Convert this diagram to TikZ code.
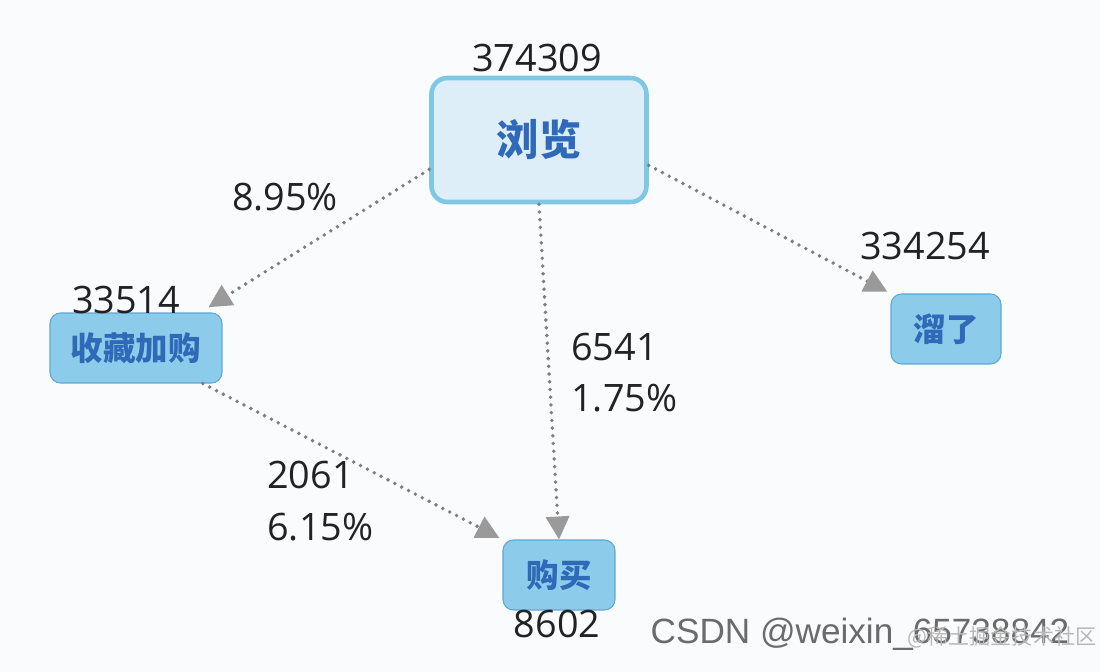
\documentclass[tikz,border=0pt]{standalone}
\usepackage{fontspec}
\setmainfont{Open Sans}
\newfontfamily\cjk{Noto Sans CJK SC}
\newfontfamily\wmfont{Liberation Sans}
\usetikzlibrary{arrows.meta,positioning}
\definecolor{bgc}{HTML}{FAFBFD}
\definecolor{topfill}{HTML}{DDEEF8}
\definecolor{topline}{HTML}{7EC8E3}
\definecolor{boxfill}{HTML}{8DCBEA}
\definecolor{boxline}{HTML}{5AA9D6}
\definecolor{txtblue}{HTML}{2F6AB8}
\definecolor{numc}{HTML}{222222}
\definecolor{flowc}{HTML}{7E7E7E}
\definecolor{tipc}{HTML}{9A9A9A}
\begin{document}
\begin{tikzpicture}[
    x=0.02cm, y=-0.02cm,
    top/.style={draw=topline, fill=topfill, line width=2.6pt, rounded corners=9pt,
                minimum width=4.3cm, minimum height=2.48cm,
                font=\cjk\bfseries\fontsize{24}{28}\selectfont, text=txtblue},
    stage/.style={draw=boxline, fill=boxfill, line width=0.6pt, rounded corners=6pt,
                  minimum height=1.4cm, font=\cjk\bfseries\fontsize{18.5}{22}\selectfont,
                  text=txtblue},
    num/.style={font=\fontsize{21.5}{25}\selectfont, text=numc, inner sep=0pt},
    flow/.style={draw=flowc, line width=2.2pt, line cap=round,
                 dash pattern=on 0pt off 4.4pt,
                 -{Triangle[length=0.46cm, width=0.46cm, fill=tipc, color=tipc]}}
  ]
  \useasboundingbox[fill=bgc] (0,0) rectangle (1100,672);
  % Stages
  \node[top] (view) at (539,140) {浏览};
  \node[stage, minimum width=3.44cm] (collect) at (136,348) {收藏加购};
  \node[stage, minimum width=2.2cm] (run) at (946,329) {溜了};
  \node[stage, minimum width=2.24cm] (buy) at (559,575) {购买};
  % Counts
  \node[num] (nview) at (537,58) {374309};
  \node[num] (ncollect) at (126,300) {33514};
  \node[num] (nrun) at (925,246) {334254};
  \node[num] (nbuy) at (557,624) {8602};
  % Flows
  \draw[flow] (view.195) -- ([xshift=-8pt,yshift=3pt]collect.north east);
  \draw[flow] (view.south) -- (buy.north);
  \draw[flow, shorten >=2pt] (view.347) -- (run.north west);
  \draw[flow, shorten >=2pt] (collect.332) -- (buy.north west);
  % Rates
  \node[num] (rcollect) at (285,197) {8.95\%};
  \node[num, anchor=west] (cbuy) at (571,347) {6541};
  \node[num, anchor=west] (rbuy) at (571,398) {1.75\%};
  \node[num, anchor=west] (ccbuy) at (267,475) {2061};
  \node[num, anchor=west] (rcbuy) at (267,527) {6.15\%};
  % Watermark
  \node[font=\wmfont\fontsize{20}{23}\selectfont, text=black!58, inner sep=0pt]
    (mark) at (860,634) {CSDN @weixin\_65738842};
  \node[font=\cjk\fontsize{12}{14}\selectfont, text=black!28, inner sep=0pt]
    (mark2) at (1002,637) {@稀土掘金技术社区};
\end{tikzpicture}
\end{document}
